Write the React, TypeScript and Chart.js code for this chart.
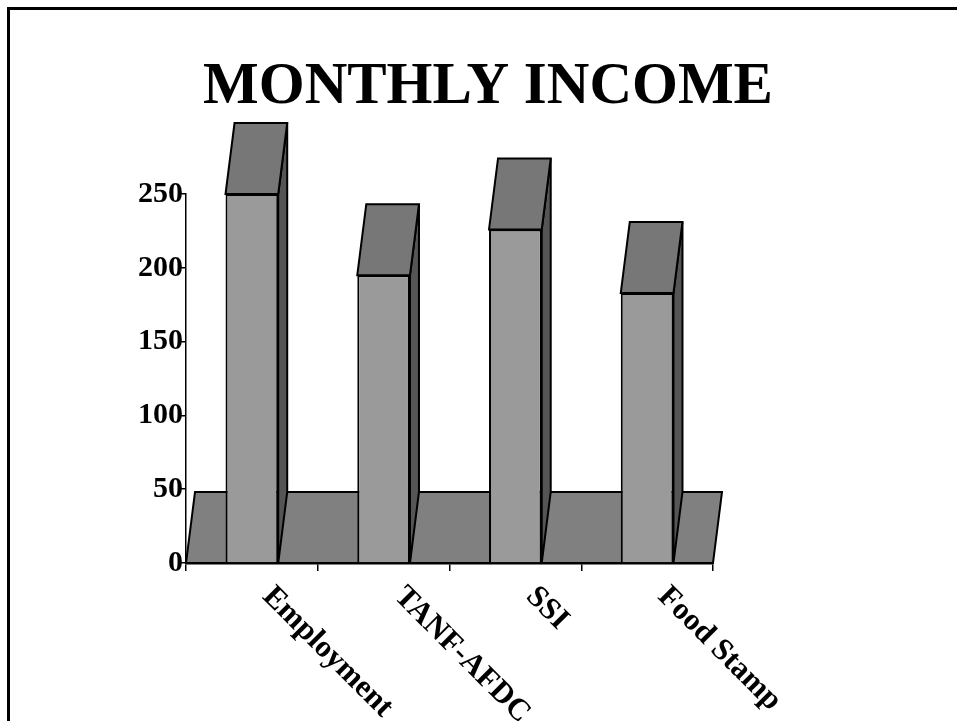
import React, { useEffect, useRef } from "react";
import { Chart, registerables } from "chart.js";

Chart.register(...registerables);

const TITLE = "MONTHLY INCOME";
const categories = ["Employment", "TANF-AFDC", "SSI", "Food Stamp"];
const incomeValues = [250, 195, 226, 183];
const yMax = 250;
const yStep = 50;

const SERIF = "'Liberation Serif', 'Times New Roman', serif";
const DEPTH_X = 9;
const DEPTH_Y = 71;
const COLORS = { front: "#9a9a9a", top: "#777777", side: "#555555", floor: "#808080" };

function poly(ctx: CanvasRenderingContext2D, pts: number[][], fill: string, lw = 2) {
  ctx.beginPath();
  pts.forEach(([x, y], i) => (i ? ctx.lineTo(x, y) : ctx.moveTo(x, y)));
  ctx.closePath();
  ctx.fillStyle = fill;
  ctx.fill();
  ctx.lineWidth = lw;
  ctx.lineJoin = "miter";
  ctx.strokeStyle = "#000";
  ctx.stroke();
}

const depthPlugin = {
  id: "depth3d",
  beforeDatasetsDraw(chart: any) {
    const { ctx, scales } = chart;
    const base = scales.y.getPixelForValue(0);
    const l = scales.x.left;
    const r = scales.x.right;
    ctx.save();
    poly(ctx, [[l, base], [l + DEPTH_X, base - DEPTH_Y], [r + DEPTH_X, base - DEPTH_Y], [r, base]], COLORS.floor);
    chart.getDatasetMeta(0).data.forEach((bar: any) => {
      const x0 = bar.x - bar.width / 2;
      const x1 = bar.x + bar.width / 2;
      const t = bar.y;
      poly(ctx, [[x1, t], [x1 + DEPTH_X, t - DEPTH_Y], [x1 + DEPTH_X, base - DEPTH_Y], [x1, base]], COLORS.side);
      poly(ctx, [[x0, t], [x0 + DEPTH_X, t - DEPTH_Y], [x1 + DEPTH_X, t - DEPTH_Y], [x1, t]], COLORS.top);
    });
    ctx.restore();
  },
  afterDraw(chart: any) {
    const { ctx, scales } = chart;
    const bottom = scales.y.getPixelForValue(0);
    ctx.save();
    ctx.font = `bold 31px ${SERIF}`;
    ctx.fillStyle = "#000";
    ctx.textAlign = "left";
    ctx.textBaseline = "alphabetic";
    scales.x.ticks.forEach((_t: any, i: number) => {
      ctx.save();
      ctx.translate(scales.x.getPixelForTick(i) + 9.5, bottom + 34.5);
      ctx.rotate(Math.PI / 4);
      ctx.fillText(scales.x.getLabelForValue(i), 0, 0);
      ctx.restore();
    });
    ctx.restore();
  },
};

export default function App() {
  const ref = useRef<HTMLCanvasElement>(null);
  useEffect(() => {
    const chart = new Chart(ref.current!, {
      type: "bar",
      data: {
        labels: categories,
        datasets: [
          {
            data: incomeValues,
            backgroundColor: COLORS.front,
            borderColor: "#000",
            borderWidth: 2,
            barPercentage: 1,
            categoryPercentage: 0.4,
          },
        ],
      },
      plugins: [depthPlugin],
      options: {
        animation: false,
        responsive: false,
        layout: { padding: { left: 19, right: 0, top: 0, bottom: 0 } },
        plugins: {
          legend: { display: false },
          tooltip: { enabled: false },
          title: {
            display: true,
            text: TITLE,
            color: "#000",
            font: { family: SERIF, size: 59, weight: "bold", lineHeight: 1.2 },
            padding: { top: 52, bottom: 71.2 },
          },
        },
        scales: {
          x: {
            offset: true,
            afterFit: (s: any) => { s.height = 158; },
            ticks: { display: false },
            grid: { offset: true, drawOnChartArea: false, drawTicks: true, tickLength: 8, color: "#000", lineWidth: 1.5 },
            border: { display: true, color: "#000", width: 2.5 },
          },
          y: {
            min: 0,
            max: yMax,
            afterFit: (s: any) => { s.width = 167; },
            ticks: {
              stepSize: yStep,
              color: "#000",
              padding: -2,
              font: { family: SERIF, size: 30, weight: "bold" },
            },
            grid: { drawOnChartArea: false, drawTicks: true, tickLength: 5, color: "#000", lineWidth: 1.5 },
            border: { display: true, color: "#000", width: 1.5 },
          },
          y2: {
            position: "right",
            min: 0,
            max: yMax,
            afterFit: (s: any) => { s.width = 244; },
            ticks: { display: false },
            grid: { display: false },
            border: { display: false },
          },
        },
      },
    } as any);
    return () => chart.destroy();
  }, []);
  return (
    <div style={{ position: "fixed", left: 0, top: 0, width: 957, height: 721, overflow: "hidden", background: "#fff" }}>
      <div style={{ position: "absolute", left: 7, top: 7, width: 950, height: 714, borderTop: "3px solid #000", borderLeft: "3px solid #000", boxSizing: "border-box" }} />
      <canvas ref={ref} width={957} height={721} style={{ position: "absolute", left: 0, top: 0, display: "block" }} />
    </div>
  );
}
